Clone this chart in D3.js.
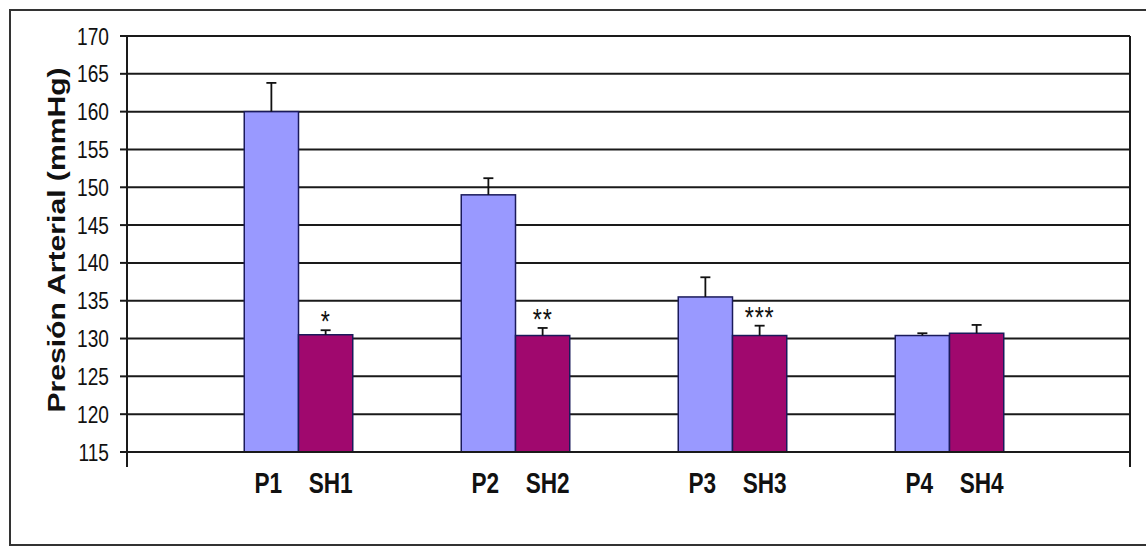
<!DOCTYPE html>
<html>
<head>
<meta charset="utf-8">
<script src="https://cdn.jsdelivr.net/npm/d3@7"></script>
<style>
  html, body { margin: 0; padding: 0; background: #ffffff; }
  svg { display: block; }
</style>
</head>
<body>
<svg id="chart" width="1146" height="554"></svg>
<script>
// Blood pressure by group: P (before) vs SH (after), mean with upper error bar
const groups = ["1", "2", "3", "4"];
const pLabels = ["P1", "P2", "P3", "P4"];
const shLabels = ["SH1", "SH2", "SH3", "SH4"];
const pValues = [160, 149, 135.5, 130.4];
const shValues = [130.5, 130.4, 130.4, 130.7];
const pErrors = [3.8, 2.2, 2.6, 0.3];
const shErrors = [0.6, 1.0, 1.3, 1.1];
const shMarks = ["*", "**", "***", ""];
const yTicks = [115, 120, 125, 130, 135, 140, 145, 150, 155, 160, 165, 170];
const yTitle = "Presión Arterial (mmHg)";

const svg = d3.select("#chart");
const narrow = 0.78; // horizontal squeeze applied to all lettering

const plot = { left: 127, right: 1130, top: 36, bottom: 452 };

const y = d3.scaleLinear().domain([115, 170]).range([plot.bottom, plot.top]);
const x = d3.scaleBand().domain(groups).range([190, 1058])
  .paddingInner(0.5).paddingOuter(0.25);
const sub = d3.scaleBand().domain(["P", "SH"]).range([0, x.bandwidth()]);

// outer frame
svg.append("rect")
  .attr("x", 10).attr("y", 10).attr("width", 1160).attr("height", 535)
  .attr("fill", "#ffffff").attr("stroke", "#333").attr("stroke-width", 2);

// gridlines
svg.append("g").selectAll("line")
  .data(yTicks.filter(t => t > 115))
  .join("line")
  .attr("x1", plot.left).attr("x2", plot.right)
  .attr("y1", d => y(d)).attr("y2", d => y(d))
  .attr("stroke", "#1a1a1a").attr("stroke-width", 2);

// right frame of plot area (extends down like the axis)
svg.append("line")
  .attr("x1", plot.right).attr("x2", plot.right)
  .attr("y1", plot.top).attr("y2", plot.bottom + 15)
  .attr("stroke", "#1a1a1a").attr("stroke-width", 2);

// bars
const rows = groups.map((g, i) => ([
  { g, key: "P", v: pValues[i], e: pErrors[i], fill: "#9999ff", label: pLabels[i], mark: "" },
  { g, key: "SH", v: shValues[i], e: shErrors[i], fill: "#a0086e", label: shLabels[i], mark: shMarks[i] }
])).flat();

const bx = d => x(d.g) + sub(d.key);
const bw = sub.bandwidth();

svg.append("g").selectAll("rect")
  .data(rows)
  .join("rect")
  .attr("x", bx)
  .attr("y", d => y(d.v))
  .attr("width", bw)
  .attr("height", d => y(115) - y(d.v))
  .attr("fill", d => d.fill)
  .attr("stroke", "#1a1a5a").attr("stroke-width", 1.5);

// error bars (upper only)
const eb = svg.append("g").attr("stroke", "#111").attr("stroke-width", 1.8);
eb.selectAll("line.v")
  .data(rows).join("line").attr("class", "v")
  .attr("x1", d => bx(d) + bw / 2).attr("x2", d => bx(d) + bw / 2)
  .attr("y1", d => y(d.v)).attr("y2", d => y(d.v + d.e));
eb.selectAll("line.c")
  .data(rows).join("line").attr("class", "c")
  .attr("x1", d => bx(d) + bw / 2 - 5).attr("x2", d => bx(d) + bw / 2 + 5)
  .attr("y1", d => y(d.v + d.e)).attr("y2", d => y(d.v + d.e));

// significance marks
svg.append("g").selectAll("text")
  .data(rows.filter(d => d.mark))
  .join("text")
  .attr("transform", d => `translate(${bx(d) + bw / 2},${y(d.v + d.e) + 1}) scale(${narrow},1)`)
  .attr("text-anchor", "middle")
  .attr("font-family", "Liberation Sans, Arial, sans-serif")
  .attr("font-size", 30)
  .attr("letter-spacing", 1)
  .attr("fill", "#111")
  .text(d => d.mark);

// y axis line (extends below the baseline)
svg.append("line")
  .attr("x1", plot.left).attr("x2", plot.left)
  .attr("y1", plot.top).attr("y2", plot.bottom + 15)
  .attr("stroke", "#1a1a1a").attr("stroke-width", 2);
// x baseline
svg.append("line")
  .attr("x1", plot.left).attr("x2", plot.right)
  .attr("y1", y(115)).attr("y2", y(115))
  .attr("stroke", "#1a1a1a").attr("stroke-width", 2);

// y ticks + labels
const yt = svg.append("g");
yt.selectAll("line")
  .data(yTicks).join("line")
  .attr("x1", plot.left - 7).attr("x2", plot.left)
  .attr("y1", d => y(d)).attr("y2", d => y(d))
  .attr("stroke", "#1a1a1a").attr("stroke-width", 2);
yt.selectAll("text")
  .data(yTicks).join("text")
  .attr("transform", d => `translate(109,${y(d) + 8.5}) scale(${narrow},1)`)
  .attr("text-anchor", "end")
  .attr("font-family", "Liberation Sans, Arial, sans-serif")
  .attr("font-size", 24.5)
  .attr("fill", "#111")
  .text(d => d);

// category labels
svg.append("g").selectAll("text")
  .data(rows).join("text")
  .attr("transform", d => `translate(${bx(d) + bw / 2 + (d.key === "P" ? -3 : 5)},493) scale(${narrow},1)`)
  .attr("text-anchor", "middle")
  .attr("font-family", "Liberation Sans, Arial, sans-serif")
  .attr("font-weight", "bold")
  .attr("font-size", 29)
  .attr("fill", "#111")
  .text(d => d.label);

// y axis title
svg.append("text")
  .attr("transform", `translate(65,240) scale(1,${1 / narrow}) rotate(-90)`)
  .attr("text-anchor", "middle")
  .attr("font-family", "Liberation Sans, Arial, sans-serif")
  .attr("font-weight", "bold")
  .attr("font-size", 23.5)
  .attr("fill", "#111")
  .text(yTitle);
</script>
</body>
</html>
